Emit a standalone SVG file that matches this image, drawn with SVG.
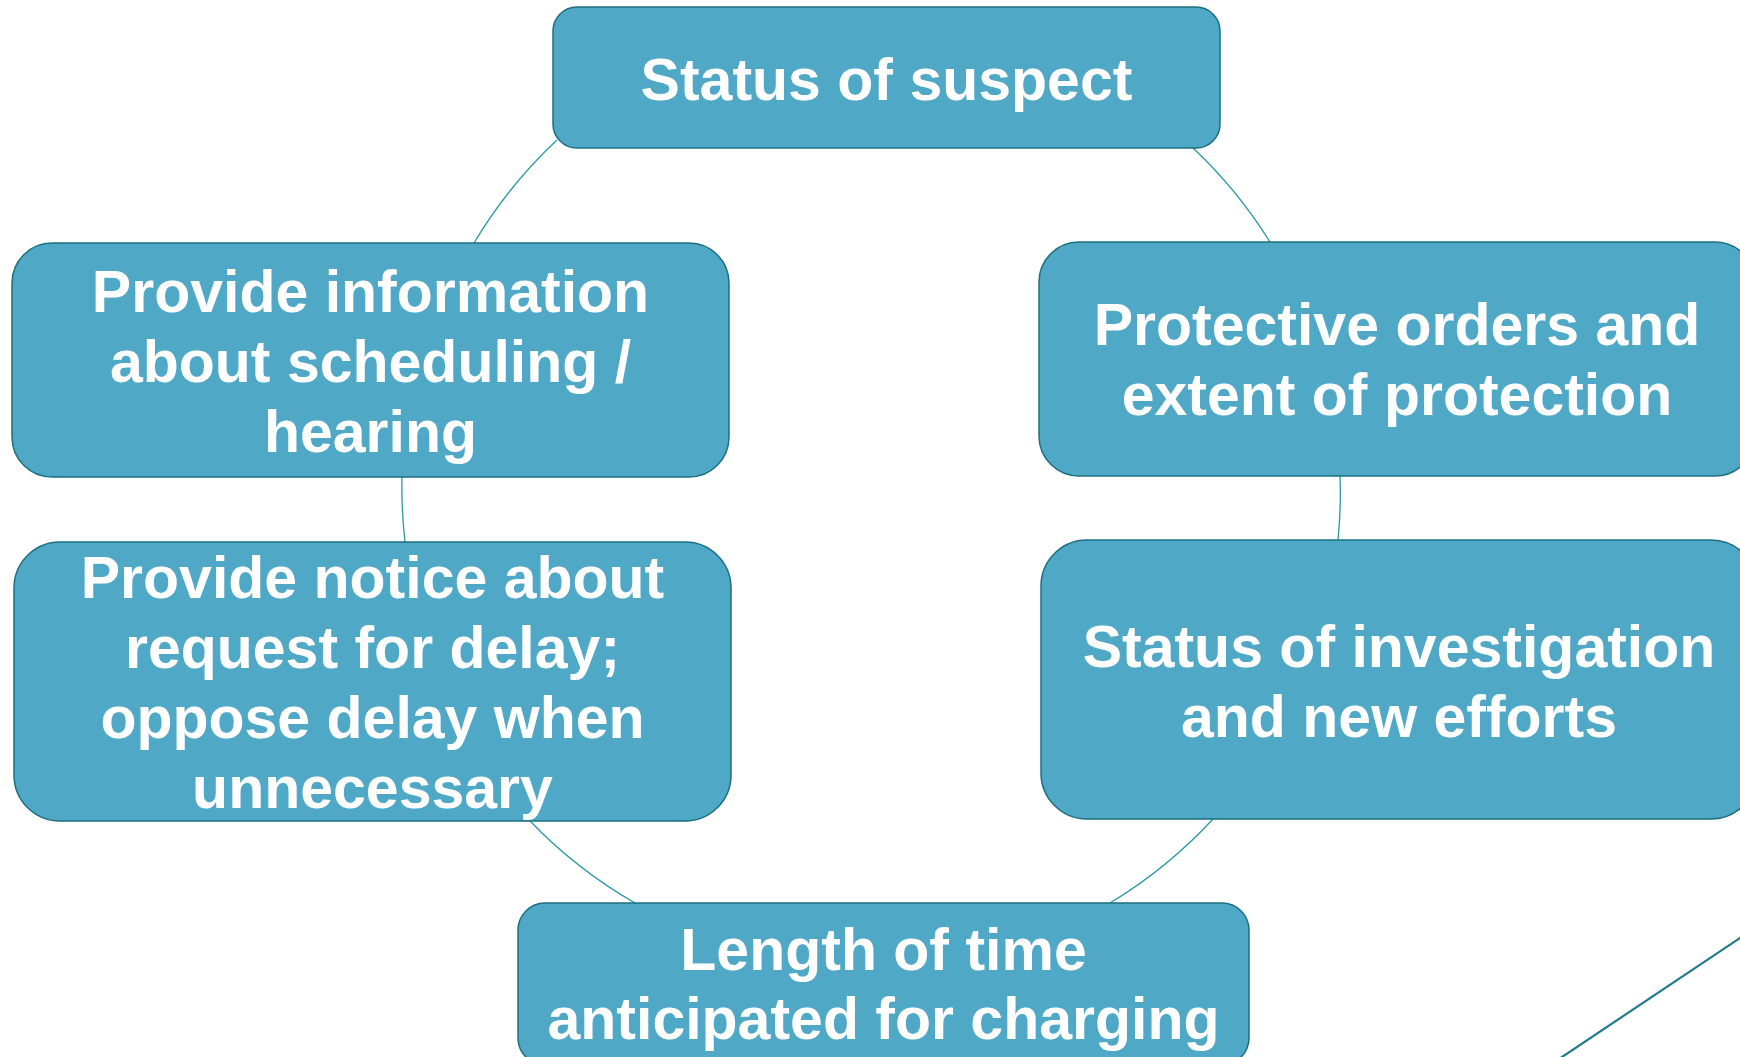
<svg xmlns="http://www.w3.org/2000/svg" width="1740" height="1057" viewBox="0 0 1740 1057">
<style>
.box{fill:#50a8c7;stroke:#1b6f80;stroke-width:1.5}
.t{font-family:"Liberation Sans",Arial,sans-serif;font-weight:bold;font-size:59px;fill:#ffffff;text-anchor:middle}
.c{fill:none;stroke:#2a98a8;stroke-width:1.3}
</style>
<rect width="1740" height="1057" fill="#ffffff"/>
<g id="connectors">
<path class="c" d="M557,140 A470,470 0 0 0 474,243"/>
<path class="c" d="M1193,148 A470,470 0 0 1 1270,242"/>
<path class="c" d="M402,477 A470,470 0 0 0 405,542"/>
<path class="c" d="M1340,476 A470,470 0 0 1 1338,540"/>
<path class="c" d="M530,821 A470,470 0 0 0 635,903"/>
<path class="c" d="M1213,819 A470,470 0 0 1 1110,903"/>
<line x1="1760" y1="924.6" x2="1540" y2="1071.7" stroke="#1f7a8a" stroke-width="2.2"/>
</g>
<g id="node-status-suspect">
<rect class="box" x="553" y="7" width="667" height="141" rx="24"/>
<text class="t" x="886.5" y="100">Status of suspect</text>
</g>
<g id="node-provide-information">
<rect class="box" x="12" y="243" width="717" height="234" rx="40"/>
<text class="t" x="370.5" y="312">Provide information</text>
<text class="t" x="370.5" y="382">about scheduling /</text>
<text class="t" x="370.5" y="452">hearing</text>
</g>
<g id="node-protective-orders">
<rect class="box" x="1039" y="242" width="716" height="234" rx="40"/>
<text class="t" x="1397" y="345">Protective orders and</text>
<text class="t" x="1397" y="415">extent of protection</text>
</g>
<g id="node-provide-notice">
<rect class="box" x="14" y="542" width="717" height="279" rx="46"/>
<text class="t" x="372.5" y="598">Provide notice about</text>
<text class="t" x="372.5" y="668">request for delay;</text>
<text class="t" x="372.5" y="738">oppose delay when</text>
<text class="t" x="372.5" y="808">unnecessary</text>
</g>
<g id="node-status-investigation">
<rect class="box" x="1041" y="540" width="716" height="279" rx="46"/>
<text class="t" x="1399" y="667">Status of investigation</text>
<text class="t" x="1399" y="737">and new efforts</text>
</g>
<g id="node-length-of-time">
<rect class="box" x="518" y="903" width="731" height="162" rx="27"/>
<text class="t" x="883.5" y="970">Length of time</text>
<text class="t" x="883.5" y="1039">anticipated for charging</text>
</g>
</svg>
